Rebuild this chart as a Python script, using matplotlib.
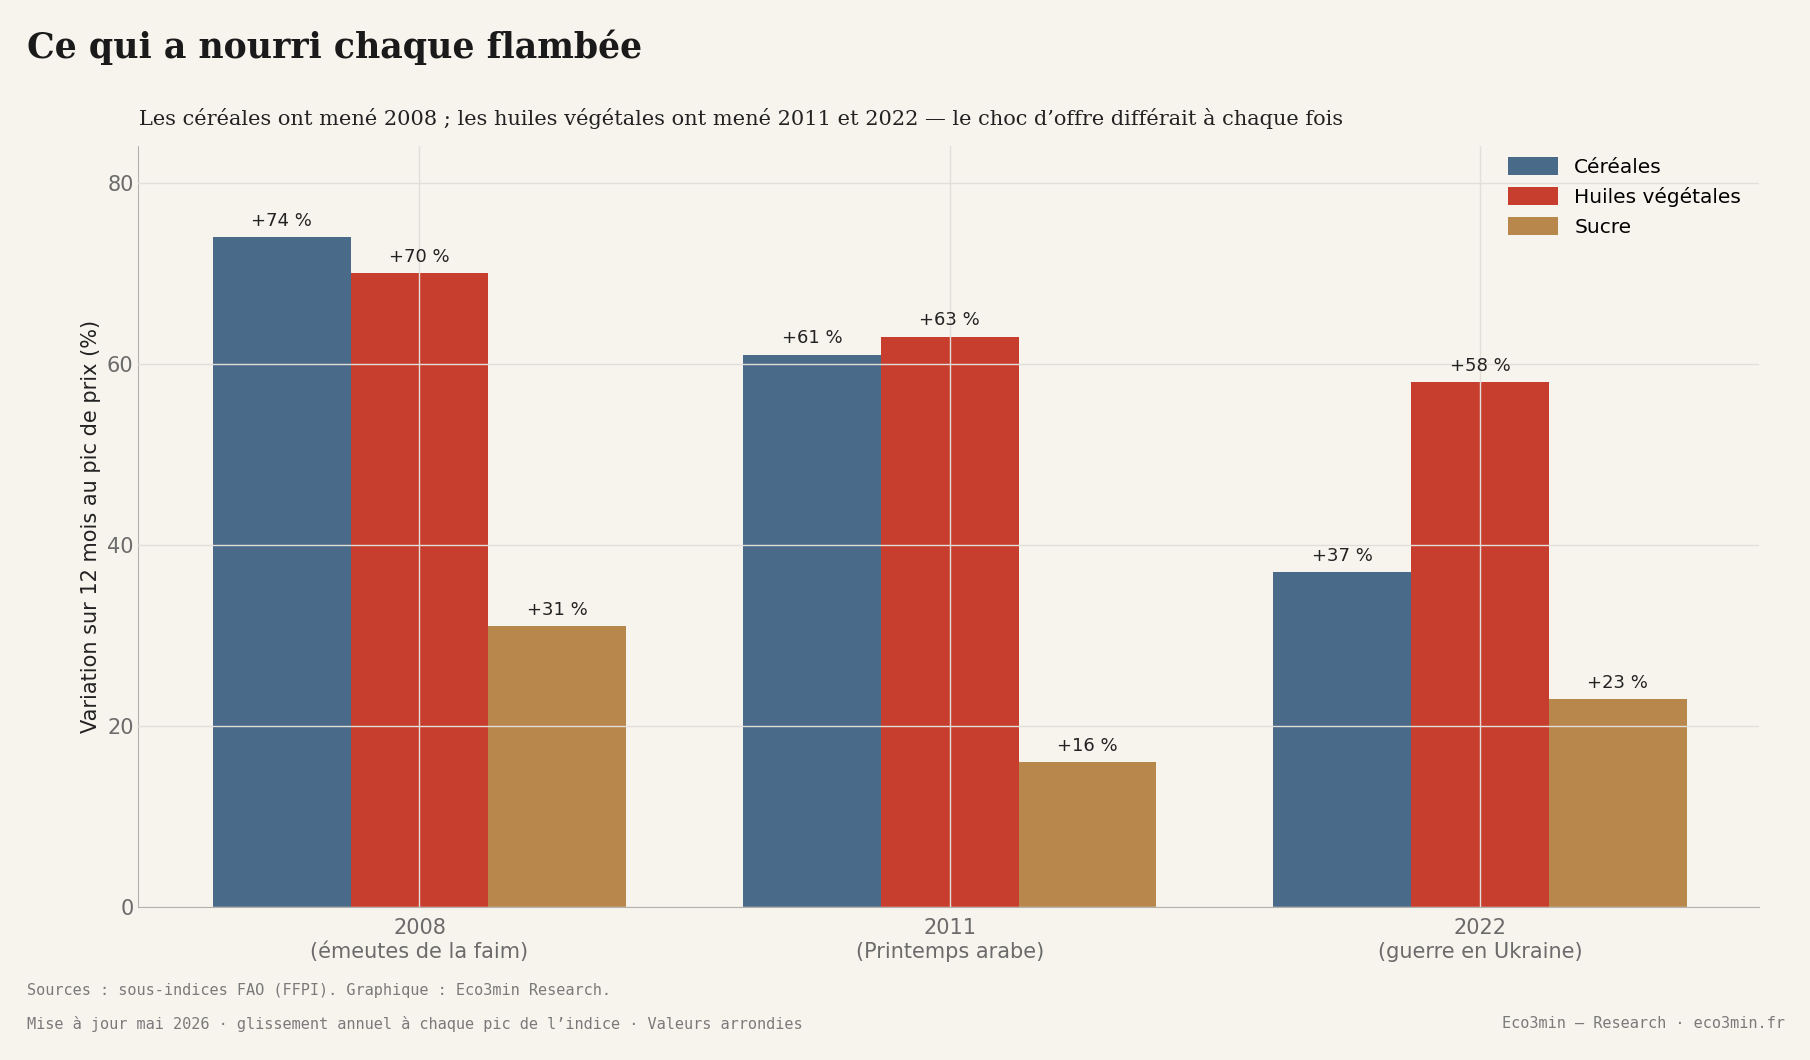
import matplotlib
matplotlib.use("Agg")
import matplotlib.pyplot as plt
import numpy as np

categories = ["2008\n(émeutes de la faim)", "2011\n(Printemps arabe)", "2022\n(guerre en Ukraine)"]
series_names = ["Céréales", "Huiles végétales", "Sucre"]
cereales = [74, 61, 37]
huiles = [70, 63, 58]
sucre = [31, 16, 23]
colors = ["#4a6a89", "#c73e2e", "#b8874b"]

bg = "#f7f4ee"
fig = plt.figure(figsize=(18.1, 10.6), dpi=100, facecolor=bg)
ax = fig.add_axes([0.0765, 0.144, 0.8955, 0.718], facecolor=bg)

x = np.arange(len(categories))
w = 0.26
for i, (vals, name, c) in enumerate(zip([cereales, huiles, sucre], series_names, colors)):
    pos = x + (i - 1) * w
    bars = ax.bar(pos, vals, w, color=c, label=name, zorder=1)
    for p, v in zip(pos, vals):
        ax.text(p, v + 0.8, f"+{v} %", ha="center", va="bottom", fontsize=13, color="#222222", zorder=3)

ax.set_xlim(-0.53, 2.527)
ax.set_ylim(0, 84)
ax.set_yticks([0, 20, 40, 60, 80])
ax.set_xticks(x)
ax.set_xticklabels(categories)
ax.tick_params(axis="both", labelsize=15, colors="#6b6b6b", length=0)
ax.tick_params(axis="x", pad=8)
ax.grid(True, color="#e2dfda", linewidth=1, zorder=2)
ax.set_axisbelow(False)
for s in ["top", "right"]:
    ax.spines[s].set_visible(False)
for s in ["left", "bottom"]:
    ax.spines[s].set_color("#b5b2ad")
ax.set_ylabel("Variation sur 12 mois au pic de prix (%)", fontsize=15, color="#222222")

leg = ax.legend(loc="upper right", frameon=False, fontsize=14.5, handlelength=2.5, handleheight=1.0,
                bbox_to_anchor=(1.0, 1.01))

fig.text(0.015, 0.955, "Ce qui a nourri chaque flambée", fontsize=25, fontweight="bold",
         family="DejaVu Serif", color="#1a1a1a", va="center")
fig.text(0.077, 0.888, "Les céréales ont mené 2008 ; les huiles végétales ont mené 2011 et 2022 — le choc d’offre différait à chaque fois",
         fontsize=15, family="DejaVu Serif", color="#222222", va="center")
fig.text(0.015, 0.066, "Sources : sous-indices FAO (FFPI). Graphique : Eco3min Research.",
         fontsize=11, family="DejaVu Sans Mono", color="#7a7a7a", va="center")
fig.text(0.015, 0.034, "Mise à jour mai 2026 · glissement annuel à chaque pic de l’indice · Valeurs arrondies",
         fontsize=11, family="DejaVu Sans Mono", color="#7a7a7a", va="center")
fig.text(0.986, 0.034, "Eco3min — Research · eco3min.fr",
         fontsize=11, family="DejaVu Sans Mono", color="#7a7a7a", va="center", ha="right")

fig.savefig("out.png", dpi=100, facecolor=bg)
